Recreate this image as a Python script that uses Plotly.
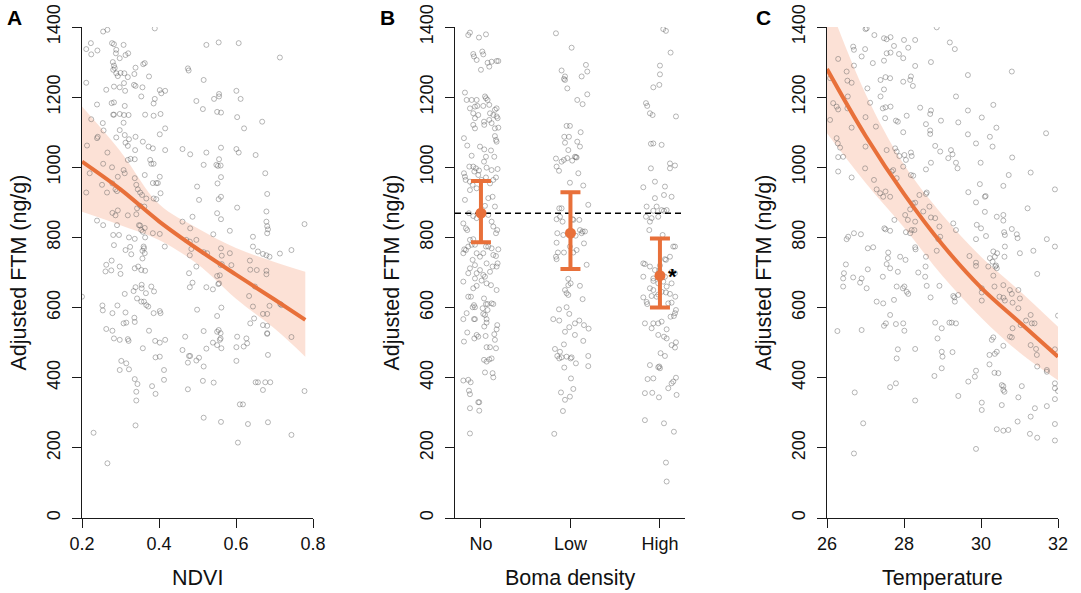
import plotly.graph_objects as go

# ---------------- data ----------------
# Panel A: NDVI vs adjusted FTM (ng/g)
ndvi_points = [
    (0.389,1396),(0.255,1387),(0.266,1392),(0.223,1354),(0.211,1337),(0.224,1322),(0.240,1333),
    (0.278,1354),(0.283,1351),(0.308,1349),(0.289,1335),(0.288,1325),(0.313,1320),(0.320,1325),(0.298,1311),
    (0.280,1300),(0.283,1290),(0.285,1283),(0.281,1278),(0.289,1268),(0.293,1260),(0.300,1269),(0.310,1268),
    (0.319,1257),(0.339,1284),(0.336,1266),(0.359,1294),(0.363,1297),(0.374,1259),(0.309,1240),(0.298,1228),
    (0.339,1232),(0.211,1241),(0.263,1221),(0.283,1230),(0.312,1218),(0.335,1235),(0.357,1228),(0.354,1202),
    (0.402,1220),(0.406,1211),(0.416,1218),(0.389,1195),(0.386,1182),(0.239,1179),(0.277,1183),(0.283,1185),
    (0.311,1175),(0.281,1150),(0.283,1150),(0.298,1152),(0.309,1149),(0.321,1149),(0.364,1150),(0.386,1147),
    (0.404,1152),(0.224,1137),(0.308,1127),(0.254,1126),(0.256,1105),(0.298,1106),(0.311,1092),(0.322,1080),
    (0.402,1094),(0.416,1111),(0.241,1087),(0.239,1083),(0.289,1085),(0.339,1087),(0.313,1070),(0.319,1061),
    (0.358,1073),(0.373,1059),(0.384,1054),(0.213,1062),(0.266,1042),(0.338,1049),(0.416,1049),(0.255,1010),
    (0.278,1000),(0.319,1021),(0.326,1024),(0.337,1023),(0.377,1021),(0.380,1010),(0.386,1010),(0.308,992),
    (0.311,983),(0.293,973),(0.337,969),(0.363,978),(0.402,973),(0.393,955),(0.384,955),(0.397,955),
    (0.220,983),(0.211,928),(0.252,950),(0.265,928),(0.279,954),(0.287,937),(0.291,932),(0.341,950),
    (0.345,937),(0.351,928),(0.356,921),(0.367,911),(0.386,911),(0.393,909),(0.404,926),(0.343,883),
    (0.351,890),(0.362,888),(0.279,870),(0.287,863),(0.293,877),(0.239,848),(0.255,835),(0.319,863),
    (0.341,866),(0.348,835),(0.351,834),(0.354,821),(0.358,816),(0.363,827),(0.291,835),(0.296,807),
    (0.281,807),(0.283,778),(0.322,800),(0.337,796),(0.364,800),(0.384,812),(0.402,810),(0.415,774),
    (0.360,774),(0.361,769),(0.357,762),(0.363,755),(0.313,764),(0.325,773),(0.328,752),(0.357,740),
    (0.346,717),(0.337,712),(0.354,707),(0.364,705),(0.277,734),(0.263,722),(0.298,717),(0.300,696),
    (0.261,703),(0.276,706),
    (0.475,1282),(0.477,1276),(0.516,1249),(0.523,1349),(0.555,1356),(0.607,1354),(0.714,1313),
    (0.497,1189),(0.543,1195),(0.556,1202),(0.556,1209),(0.601,1218),(0.612,1195),(0.514,1166),(0.551,1158),
    (0.561,1156),(0.603,1143),(0.621,1111),(0.668,1130),(0.461,1052),(0.481,1037),(0.523,1042),(0.561,1056),
    (0.601,1052),(0.607,1042),(0.651,1035),(0.516,1007),(0.549,1007),(0.553,1004),(0.560,1005),(0.556,1023),
    (0.676,983),(0.561,972),(0.552,954),(0.499,945),(0.561,916),(0.504,907),(0.555,909),(0.681,924),
    (0.603,885),(0.679,874),(0.551,869),(0.561,852),(0.461,845),(0.487,859),(0.584,819),(0.679,845),
    (0.681,832),(0.683,823),(0.681,812),(0.778,838),(0.481,826),(0.541,809),(0.644,802),(0.471,793),
    (0.480,788),(0.497,793),(0.484,767),(0.480,749),(0.516,758),(0.525,755),(0.561,769),(0.563,748),
    (0.584,755),(0.644,774),(0.657,760),(0.670,753),(0.679,749),(0.687,745),(0.714,754),(0.744,764),
    (0.497,717),(0.478,698),(0.560,721),(0.563,724),(0.551,690),(0.558,692),(0.588,721),(0.636,734),
    (0.637,708),(0.654,707),(0.679,705),(0.679,695),
    (0.200,631),(0.253,606),(0.254,592),(0.279,584),(0.292,606),(0.311,639),(0.334,647),(0.339,658),
    (0.355,665),(0.355,655),(0.343,626),(0.361,617),(0.354,617),(0.366,641),(0.367,607),(0.372,603),
    (0.386,584),(0.387,646),(0.380,660),(0.402,590),(0.404,584),(0.336,571),(0.337,559),(0.313,586),
    (0.315,557),(0.308,555),(0.263,539),(0.279,534),(0.283,512),(0.298,508),(0.319,510),(0.321,505),
    (0.374,534),(0.358,484),(0.390,505),(0.402,500),(0.416,508),(0.461,479),(0.468,517),(0.322,424),
    (0.315,441),(0.298,422),(0.302,448),(0.337,396),(0.344,382),(0.341,360),(0.341,335),(0.339,264),
    (0.391,458),(0.402,460),(0.413,422),(0.413,394),(0.382,376),(0.391,354),(0.230,243),(0.266,156),
    (0.478,462),(0.481,462),(0.475,443),(0.504,457),(0.497,449),(0.516,432),(0.475,367),(0.514,391),
    (0.516,286),(0.542,386),(0.561,274),(0.499,594),(0.516,533),(0.523,483),(0.540,500),(0.551,493),
    (0.558,508),(0.560,512),(0.560,527),(0.555,536),(0.551,531),(0.562,484),(0.551,576),(0.562,600),
    (0.556,669),(0.554,667),(0.487,671),(0.480,658),(0.523,658),(0.540,652),(0.603,517),(0.601,487),
    (0.601,448),(0.620,489),(0.627,512),(0.629,498),(0.637,555),(0.647,569),(0.644,603),(0.634,633),
    (0.649,660),(0.605,215),(0.610,324),(0.618,324),(0.631,268),(0.651,387),(0.657,387),(0.670,365),
    (0.676,387),(0.689,387),(0.670,582),(0.681,582),(0.670,550),(0.681,548),(0.681,527),(0.681,525),
    (0.683,465),(0.683,273),(0.687,605),(0.744,516),(0.744,237),(0.778,362),(0.715,610),(0.718,607),
]

# Fitted curve and 95% band for NDVI
ndvi_grid = [0.20, 0.30, 0.40, 0.50, 0.60, 0.70, 0.78]
ndvi_fit = [1016, 937, 846, 767, 694, 623, 565]
ndvi_upper = [1173, 1045, 895, 826, 770, 730, 702]
ndvi_lower = [873, 835, 793, 724, 625, 540, 460]

# Panel B: boma density groups (jittered position, FTM)
boma_points = [
    # No
    (0.858,1377),(0.877,1384),(0.978,1370),(1.056,1379),(0.914,1323),(0.922,1316),(0.952,1306),(1.015,1330),
    (1.026,1322),(1.074,1298),(1.093,1287),(1.119,1301),(1.175,1303),(1.194,1303),(1.000,1278),(0.821,1213),
    (0.840,1192),(0.896,1192),(0.952,1192),(0.877,1168),(0.933,1173),(0.959,1175),(1.045,1202),(1.056,1197),
    (1.074,1192),(1.093,1178),(1.026,1175),(1.156,1164),(1.175,1168),(1.138,1149),(1.175,1145),(1.101,1154),
    (0.914,1154),(0.933,1140),(0.970,1149),(1.034,1130),(1.093,1135),(1.119,1126),(1.186,1140),(1.156,1111),
    (0.914,1121),(0.933,1111),(1.037,1121),(1.156,1089),(1.194,1113),(1.168,1078),(1.175,1073),(0.810,1083),
    (0.847,1062),(0.896,1033),(0.989,1059),(1.037,1051),(1.056,1030),(1.112,1048),(1.149,1030),(1.034,1016),
    (1.063,999),(1.119,992),(1.186,995),(0.870,1002),(0.914,1002),(0.944,997),(0.978,991),(0.926,988),
    (0.970,978),(0.810,983),(0.821,973),(0.829,964),(0.877,959),(0.907,950),(0.952,940),(0.877,935),
    (1.056,971),(1.007,964),(1.101,954),(1.138,964),(1.168,971),(1.082,912),(1.130,916),(1.156,888),
    (1.045,890),(1.082,864),(1.119,845),(1.138,831),(1.182,821),(1.168,812),(0.821,907),(0.866,869),
    (0.914,861),(0.952,855),(0.832,826),(0.847,821),(0.803,840),(0.877,793),(0.896,779),(0.832,764),
    (0.803,755),(0.814,766),(0.858,774),(0.914,795),(0.933,779),(0.952,755),(0.989,745),(1.026,755),
    (1.056,774),(1.082,774),(1.119,769),(1.138,750),(1.168,747),(1.194,766),(0.907,736),(0.933,721),
    (0.877,712),(0.858,698),(0.952,698),(0.989,707),(1.063,726),(1.045,688),(1.101,702),(1.130,717),
    (1.175,717),(1.186,726),(1.026,693),(0.933,683),
    (0.803,674),(0.914,655),(0.952,662),(1.007,677),(1.063,669),(1.112,664),(1.175,650),(0.858,631),
    (0.888,631),(0.922,607),(0.907,601),(0.933,601),(1.034,626),(1.056,610),(1.074,610),(1.119,612),
    (1.138,610),(1.019,598),(1.026,582),(1.074,593),(0.840,584),(1.045,579),(0.803,567),(0.922,567),
    (0.933,567),(1.063,567),(1.063,557),(1.037,546),(1.182,550),(1.175,538),(0.847,529),(0.952,522),
    (0.970,517),(0.926,512),(0.810,503),(1.052,519),(1.149,524),(1.156,508),(1.063,487),(1.101,487),
    (1.168,484),(1.034,451),(1.063,446),(1.119,455),(1.093,452),(1.045,415),(1.130,413),(1.138,401),
    (0.803,392),(0.858,394),(0.885,387),(0.866,363),(0.877,353),(0.970,330),(0.981,330),(0.877,313),
    (0.981,306),(0.877,241),
    # Low
    (1.838,1382),(2.013,1341),(1.901,1276),(1.939,1259),(1.939,1249),(1.927,1252),(2.125,1259),(2.173,1292),
    (2.188,1273),(2.076,1192),(1.965,1225),(2.188,1208),(2.136,1180),(1.957,1118),(1.994,1118),(1.931,1087),
    (1.983,1087),(1.939,1070),(2.114,1100),(2.076,1073),(2.106,1059),(2.069,1028),(1.976,1049),(2.020,1019),
    (2.050,1030),(2.061,1029),(1.927,1021),(1.838,1025),(1.845,1002),(1.872,990),(1.901,1016),(1.965,1026),
    (2.088,983),(1.994,956),(2.143,948),(2.199,893),(1.901,883),(1.875,883),(1.845,852),(1.883,859),
    (1.912,845),(2.032,850),(2.024,852),(2.099,850),(2.106,821),(2.136,817),(2.162,817),(1.853,812),
    (1.920,807),(2.058,805),(2.069,764),(2.125,812),(2.151,783),(1.845,785),(1.860,757),(1.838,745),
    (1.845,738),(1.927,757),(1.994,774),(2.032,757),(2.181,722),(1.976,682),
    (1.808,567),(1.875,563),(1.872,595),(1.957,601),(1.987,582),(1.957,641),(1.939,650),(1.976,636),
    (2.002,669),(1.976,664),(2.106,662),(2.136,624),(1.987,544),(2.050,555),(2.099,563),(2.151,550),
    (2.203,540),(1.939,531),(2.050,522),(2.143,505),(1.827,482),(1.883,474),(1.927,495),(1.853,462),
    (1.875,455),(1.901,458),(1.957,460),(2.013,458),(2.002,455),(2.061,441),(1.931,429),(2.199,462),
    (2.199,433),(2.006,398),(2.032,368),(1.994,346),(1.894,358),(1.939,337),(1.916,305),(1.819,240),
    # High
    (3.037,1394),(3.067,1389),(3.119,1327),(3.000,1290),(3.000,1265),(2.926,1228),(2.993,1235),(3.179,1145),
    (2.844,1183),(2.858,1175),(2.888,1154),(2.918,1149),(2.926,1068),(2.899,1067),(3.019,1064),(3.112,1011),
    (3.112,997),(3.168,1005),(2.899,997),(2.944,959),(2.814,943),(3.056,945),(2.944,912),(3.045,921),
    (2.851,888),(2.844,859),(2.926,876),(2.963,888),(3.019,878),(3.045,876),(3.075,878),(3.130,916),
    (2.881,821),(2.907,855),(2.981,859),(2.888,845),(3.030,807),(3.149,774),(3.168,774),(3.112,745),
    (3.056,738),(2.814,726),(2.832,724),(2.888,717),(3.000,720),(3.067,736),(3.056,688),(2.993,707),
    (2.944,707),(2.926,683),(2.814,688),(3.130,702),(3.168,698),
    (2.926,676),(2.981,669),(3.075,660),(3.037,674),(3.130,669),(2.888,655),(2.926,650),(3.019,645),
    (3.067,643),(3.112,639),(2.963,631),(2.981,637),(2.907,633),(2.814,629),(2.851,616),(2.858,610),
    (3.130,614),(3.171,631),(3.093,612),(3.179,593),(3.168,584),(3.119,574),(3.156,576),(2.832,555),
    (2.926,555),(2.981,555),(3.019,560),(3.075,538),(2.907,541),(2.981,522),(3.045,517),(3.075,512),
    (3.130,493),(3.179,501),(3.168,486),(3.007,470),(3.056,462),(2.888,436),(2.993,432),(3.000,427),
    (2.981,430),(2.862,396),(2.926,398),(3.093,370),(3.130,384),(3.149,389),(3.179,400),(3.186,351),
    (2.832,356),(2.914,357),(2.989,344),(2.832,279),(3.045,270),(3.156,246),(3.067,158),(3.075,104),
]

# Group estimates with interval bounds
boma_levels = ["No", "Low", "High"]
boma_pos = [1, 2, 3]
boma_mean = [869, 812, 691]
boma_upper = [961, 929, 797]
boma_lower = [786, 710, 600]
overall_mean = 869

# Panel C: temperature vs adjusted FTM (ng/g)
temp_points = [
    (27.03,1396),(27.00,1394),(27.23,1377),(27.48,1368),(27.55,1365),(27.65,1371),(28.00,1363),(28.29,1363),
    (28.85,1399),(29.19,1356),(29.32,1337),(26.68,1344),(26.70,1335),(26.99,1337),(26.90,1316),(27.48,1304),
    (27.55,1325),(27.65,1327),(27.74,1346),(27.87,1323),(27.98,1311),(28.11,1341),(28.70,1300),(27.19,1297),
    (26.70,1290),(26.29,1309),(26.51,1273),(26.53,1247),(26.64,1241),(27.05,1225),(27.39,1249),(27.52,1257),
    (27.64,1254),(27.98,1244),(28.16,1249),(28.18,1259),(28.23,1232),(28.29,1289),(29.66,1263),(29.35,1202),
    (30.80,1273),(27.12,1184),(27.39,1202),(27.48,1222),(27.45,1168),(27.65,1173),(27.52,1171),(27.51,1140),
    (28.42,1170),(28.70,1162),(28.68,1152),(28.07,1147),(28.57,1123),(28.68,1105),(28.68,1095),(28.96,1133),
    (29.41,1128),(27.79,1133),(27.84,1130),(27.98,1100),(29.66,1162),(29.66,1094),(30.02,1142),(30.32,1178),
    (30.40,1113),(30.23,1087),(31.69,1097),(26.08,1254),(26.16,1183),(26.53,1168),(26.54,1202),(26.25,1173),
    (26.29,1165),(26.08,1135),(26.64,1113),(26.25,1083),(26.28,1068),(26.34,1056),(26.29,1029),(26.42,1030),
    (26.29,988),(26.64,971),(27.27,1116),(27.00,1143),(27.00,1059),(27.55,1049),(27.77,1054),(27.81,1045),
    (27.88,1032),(28.01,1035),(28.18,1042),(28.20,1032),(28.05,1021),(27.98,1002),(27.81,969),(27.72,992),
    (26.99,997),(27.22,964),(27.29,937),(27.38,926),(27.46,916),(27.52,931),(27.64,916),(27.68,988),
    (28.18,978),(28.24,976),(28.57,994),(28.70,1013),(28.81,1061),(28.94,1045),(29.22,1049),(29.26,1037),
    (29.15,1026),(29.35,1013),(29.39,997),(29.99,1013),(29.87,1068),(30.30,1059),(30.81,1028),(31.29,985),
    (30.72,978),(30.58,947),(29.97,952),(29.87,900),(29.67,929),(30.10,916),(30.12,918),(30.10,873),
    (30.41,859),(30.58,864),(30.58,848),(30.60,815),(30.62,807),(30.80,824),(30.93,809),(30.95,798),
    (31.21,883),(31.92,937),(31.71,795),(31.92,774),(30.62,774),(31.36,762),(31.01,755),(30.42,755),
    (30.32,760),(30.36,745),(30.30,731),(30.23,741),(30.61,745),(30.37,717),(30.39,720),(30.32,691),
    (31.46,696),(29.87,728),(29.87,719),(29.70,747),(30.00,826),(29.89,836),(29.87,795),(30.13,804),
    (29.35,821),(29.28,840),(28.92,831),(28.94,802),(28.89,795),(28.85,762),(28.57,745),(28.56,717),
    (28.29,772),(28.30,766),(28.03,864),(28.10,850),(28.05,815),(28.20,821),(28.27,821),(28.29,845),
    (28.23,897),(28.29,899),(28.40,921),(28.57,924),(28.59,928),(28.66,888),(28.50,874),(28.81,855),
    (28.70,857),(27.75,850),(27.49,826),(27.52,823),(27.64,819),(27.59,757),(27.58,741),(27.55,724),
    (27.64,712),(27.84,702),(27.90,745),(28.04,736),(28.37,700),(28.55,688),(27.20,772),(27.06,769),
    (27.45,688),(26.49,723),(26.55,802),(26.70,812),(26.88,809),(26.51,795),(26.44,698),(26.42,683),
    (26.68,686),(26.90,683),(27.06,709),(28.16,812),(28.16,880),(30.19,717),(30.41,712),
    (26.42,660),(26.86,671),(27.03,655),(27.29,617),(27.46,612),(27.53,555),(27.48,548),(27.64,579),
    (27.74,622),(27.81,660),(28.01,660),(27.97,655),(28.07,645),(28.11,639),(28.59,662),(28.69,629),
    (28.92,662),(29.28,633),(29.31,629),(29.41,636),(29.32,617),(26.27,533),(26.90,536),(26.72,358),
    (26.94,270),(26.70,184),(27.79,553),(27.98,555),(28.01,534),(27.81,455),(27.84,481),(28.29,482),
    (27.64,373),(27.79,384),(28.29,335),(28.81,557),(28.98,541),(28.87,512),(28.98,474),(29.00,460),
    (28.98,427),(29.26,473),(29.18,557),(29.24,557),(29.35,555),(28.79,405),(29.41,348),(29.67,389),
    (29.87,420),(29.84,403),(29.87,197),(30.02,329),(30.02,308),(30.02,655),(30.02,643),(30.02,620),
    (30.22,438),(30.22,465),(30.28,508),(30.32,515),(30.41,474),(30.36,468),(30.58,491),(30.45,413),
    (30.35,414),(30.54,379),(30.58,376),(30.58,365),(30.61,360),(30.54,322),(30.41,253),(30.58,249),
    (30.71,251),(30.95,275),(30.97,344),(31.06,376),(30.62,620),(30.48,631),(30.35,660),(30.58,664),
    (30.75,650),(30.80,639),(30.58,628),(30.82,614),(30.97,650),(30.97,598),(31.01,626),(31.03,550),
    (30.82,541),(30.75,517),(30.80,515),(31.17,563),(31.29,579),(31.32,555),(31.39,555),(31.29,493),
    (31.43,482),(31.45,465),(31.46,432),(31.40,313),(31.29,289),(31.27,240),(31.46,229),(31.71,422),
    (31.71,417),(31.71,319),(31.92,481),(31.92,384),(31.92,370),(31.92,339),(31.92,268),(31.92,221),
    (32.00,577),(32.00,362),
]

# Fitted curve and 95% band for temperature
temp_grid = [26, 27, 28, 29, 30, 31, 32]
temp_fit = [1280, 1090, 924, 779, 657, 558, 460]
temp_upper = [1480, 1210, 1008, 864, 745, 648, 545]
temp_lower = [1097, 956, 828, 690, 572, 472, 393]

y_ticks = [0, 200, 400, 600, 800, 1000, 1200, 1400]

# ---------------- styling ----------------
W, H = 1081, 593
FONT = "Liberation Sans, Arial, Helvetica, sans-serif"
ORANGE = "#E8703A"
BAND = "rgba(240,120,70,0.22)"
PT_COLOR = "rgba(95,95,95,0.5)"
AXIS_COLOR = "#1a1a1a"

# panel geometry in pixels: (left, right) of each plot area, top/bottom shared
panels_px = [(82, 313), (455, 685), (827, 1058)]
top_px, bottom_px = 27, 518
y_domain = [1 - bottom_px / H, 1 - top_px / H]

fig = go.Figure()


def add_points(pts, xa, ya):
    fig.add_trace(go.Scatter(
        x=[p[0] for p in pts], y=[p[1] for p in pts], mode="markers",
        marker=dict(symbol="circle-open", size=5, color=PT_COLOR, line=dict(width=0.9)),
        xaxis=xa, yaxis=ya, hoverinfo="skip"))


def add_fit(grid, fit, lo, hi, xa, ya):
    fig.add_trace(go.Scatter(x=grid, y=lo, mode="lines", line=dict(width=0, shape="spline"),
                             xaxis=xa, yaxis=ya, hoverinfo="skip"))
    fig.add_trace(go.Scatter(x=grid, y=hi, mode="lines", line=dict(width=0, shape="spline"),
                             fill="tonexty", fillcolor=BAND, xaxis=xa, yaxis=ya, hoverinfo="skip"))


# Panel A
add_fit(ndvi_grid, ndvi_fit, ndvi_lower, ndvi_upper, "x", "y")
add_points(ndvi_points, "x", "y")
fig.add_trace(go.Scatter(x=ndvi_grid, y=ndvi_fit, mode="lines",
                         line=dict(color=ORANGE, width=4, shape="spline"), xaxis="x", yaxis="y"))

# Panel B
add_points(boma_points, "x2", "y2")
fig.add_trace(go.Scatter(x=[0.71, 3.28], y=[overall_mean, overall_mean], mode="lines",
                         line=dict(color="black", width=1.3, dash="6px,4px"), xaxis="x2", yaxis="y2"))
fig.add_trace(go.Scatter(
    x=boma_pos, y=boma_mean, mode="markers",
    marker=dict(color=ORANGE, size=11),
    error_y=dict(type="data", symmetric=False,
                 array=[u - m for u, m in zip(boma_upper, boma_mean)],
                 arrayminus=[m - l for m, l in zip(boma_mean, boma_lower)],
                 color=ORANGE, thickness=4, width=10),
    xaxis="x2", yaxis="y2"))

# Panel C
add_fit(temp_grid, temp_fit, temp_lower, temp_upper, "x3", "y3")
add_points(temp_points, "x3", "y3")
fig.add_trace(go.Scatter(x=temp_grid, y=temp_fit, mode="lines",
                         line=dict(color=ORANGE, width=4, shape="spline"), xaxis="x3", yaxis="y3"))

axis_common = dict(showline=True, linecolor=AXIS_COLOR, linewidth=1, ticks="outside", ticklen=9,
                   tickwidth=1, tickcolor=AXIS_COLOR, showgrid=False, zeroline=False,
                   automargin=False, tickfont=dict(family=FONT, size=18, color="#111"))

layout = dict(template="none", width=W, height=H, margin=dict(l=0, r=0, t=0, b=0, pad=0),
              paper_bgcolor="white", plot_bgcolor="white", showlegend=False,
              font=dict(family=FONT, color="#111"))

x_specs = [
    dict(range=[0.2, 0.8], tickvals=[0.2, 0.4, 0.6, 0.8], ticktext=["0.2", "0.4", "0.6", "0.8"]),
    dict(range=[0.71, 3.28], tickvals=boma_pos, ticktext=boma_levels),
    dict(range=[26, 32], tickvals=[26, 28, 30, 32], ticktext=["26", "28", "30", "32"]),
]
suffix = ["", "2", "3"]
for i, (l, r) in enumerate(panels_px):
    s = suffix[i]
    layout["xaxis" + s] = dict(axis_common, domain=[l / W, r / W], anchor="y" + s, **x_specs[i])
    layout["yaxis" + s] = dict(axis_common, domain=y_domain, anchor="x" + s, range=[0, 1400],
                               tickvals=y_ticks, ticktext=[str(v) for v in y_ticks], tickangle=-90,
                               ticklabelstandoff=5)

annotations = []
x_titles = ["NDVI", "Boma density", "Temperature"]
letters = ["A", "B", "C"]
letter_px = [15, 387, 763]
for i, (l, r) in enumerate(panels_px):
    annotations.append(dict(text=x_titles[i], xref="paper", yref="paper", x=(l + r) / 2 / W,
                            y=1 - 578 / H, showarrow=False, xanchor="center", yanchor="middle",
                            font=dict(family=FONT, size=21.5, color="#111")))
    annotations.append(dict(text="Adjusted FTM (ng/g)", xref="paper", yref="paper",
                            x=(l - 64) / W, y=1 - (top_px + bottom_px) / 2 / H, textangle=-90,
                            showarrow=False, xanchor="center", yanchor="middle",
                            font=dict(family=FONT, size=21.5, color="#111")))
    annotations.append(dict(text="<b>%s</b>" % letters[i], xref="paper", yref="paper",
                            x=letter_px[i] / W, y=1 - 17 / H, showarrow=False,
                            xanchor="center", yanchor="middle",
                            font=dict(family=FONT, size=21, color="#000")))
annotations.append(dict(text="<b>*</b>", xref="x2", yref="y2", x=3.14, y=690, showarrow=False,
                        xanchor="center", yanchor="middle", font=dict(family=FONT, size=22, color="#000")))
layout["annotations"] = annotations

fig.update_layout(**layout)
fig.write_html("out.html")
